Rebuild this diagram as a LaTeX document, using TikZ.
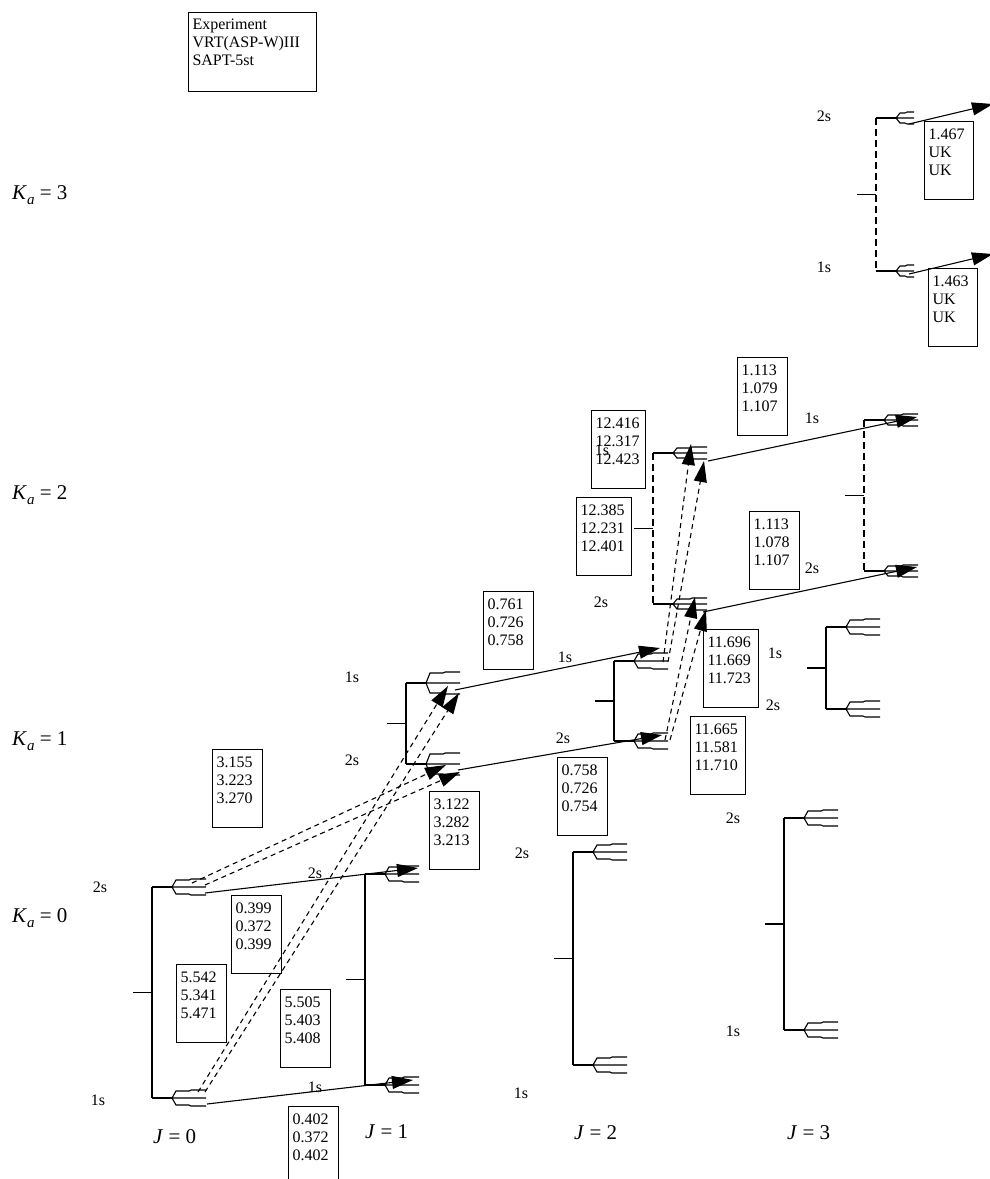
\documentclass[tikz,border=0pt]{standalone}
\usepackage{fontspec}
\setmainfont{Liberation Serif}
\usetikzlibrary{arrows.meta}

\newcommand\vfont{\fontsize{16}{18}\selectfont}
\newcommand\bigfont{\fontsize{21}{24}\selectfont}
% three stacked values, top aligned in a fixed-height box
\newcommand\vals[4]{\parbox[t][78pt][t]{#1}{\rule{0pt}{18pt}#2\\#3\\#4}}
\newcommand\Klab[1]{\textit{K}\raisebox{-0.28em}{\fontsize{15}{15}\selectfont\textit{a}} = #1}
\newcommand\Jlab[1]{\textit{J} = #1}

% three-pronged fork ending a level: spread, length, x, y
\newcommand\forkat[4]{%
  \draw[lvl,shift={(#3,#4)}]
    (0,0) -- (4,-#1) -- ({0.5*#2},-#1) -- ({0.5*#2+2},{-#1-1}) -- (#2,{-#1-1})
    (0,0) -- (#2,0)
    (0,0) -- (4,#1) -- ({0.5*#2},#1) -- ({0.5*#2+2},{#1+1}) -- (#2,{#1+1});}

% a pair of levels joined by a bracket: vertical x, top y, bottom y, vertical style, fork spread, fork length
\newcommand\lvlblock[6]{%
  \draw[lvl] ({#1-19},{(#2+#3)/2}) -- (#1,{(#2+#3)/2});
  \draw[lvl,#4] (#1,#2) -- (#1,#3);
  \draw[lvl] (#1,#2) -- ({#1+20},#2) (#1,#3) -- ({#1+20},#3);
  \forkat{#5}{#6}{#1+20}{#2}
  \forkat{#5}{#6}{#1+20}{#3}}

\begin{document}
\begin{tikzpicture}[x=1pt,y=-1pt,
  lvl/.style={line width=1.1pt},
  dashlvl/.style={dash pattern=on 7pt off 4pt},
  trans/.style={line width=1.1pt,-{Triangle[length=21pt,width=13pt]}},
  dtrans/.style={trans,dash pattern=on 5pt off 4pt},
  valbox/.style={draw,line width=1pt,anchor=north west,inner xsep=4pt,inner ysep=0pt,font=\vfont},
  lab/.style={font=\vfont,inner sep=0pt},
  biglab/.style={font=\bigfont,inner sep=0pt,anchor=base west}]
\useasboundingbox (0,0) rectangle (989,1179);

% legend
\node[valbox] (legend) at (188,12) {\parbox[t][79pt][t]{120pt}{\rule{0pt}{17pt}Experiment\\VRT(ASP-W)III\\SAPT-5st}};

% K_a and J labels
\node[biglab] (ka3) at (12,199) {\Klab{3}};
\node[biglab] (ka2) at (12,499) {\Klab{2}};
\node[biglab] (ka1) at (12,745) {\Klab{1}};
\node[biglab] (ka0) at (12,922) {\Klab{0}};
\node[biglab] (j0) at (153,1143) {\Jlab{0}};
\node[biglab] (j1) at (365,1138) {\Jlab{1}};
\node[biglab] (j2) at (574,1139) {\Jlab{2}};
\node[biglab] (j3) at (787,1139) {\Jlab{3}};

% level brackets
\lvlblock{152}{887}{1098}{}{7}{34}
\lvlblock{365}{874}{1085}{}{7}{34}
\lvlblock{573}{852}{1065}{}{7}{34}
\lvlblock{784}{818}{1030}{}{7}{34}
\lvlblock{406}{683}{764}{}{10}{34}
\lvlblock{614}{661}{741}{}{7}{34}
\lvlblock{826}{627}{709}{}{7}{34}
\lvlblock{653}{453}{604}{dashlvl}{5}{34}
\lvlblock{864}{420}{571}{dashlvl}{5}{34}
\lvlblock{876}{118}{271}{dashlvl}{5}{18}

% level symmetry labels
\node[lab] (l1) at (100,887) {2s};
\node[lab] (l2) at (98,1100) {1s};
\node[lab] (l3) at (315,873) {2s};
\node[lab] (l4) at (315,1087) {1s};
\node[lab] (l5) at (352,677) {1s};
\node[lab] (l6) at (352,760) {2s};
\node[lab] (l7) at (522,853) {2s};
\node[lab] (l8) at (521,1093) {1s};
\node[lab] (l9) at (565,657) {1s};
\node[lab] (l10) at (563,738) {2s};
\node[lab] (l11) at (602,450) {1s};
\node[lab] (l12) at (601,602) {2s};
\node[lab] (l13) at (775,653) {1s};
\node[lab] (l14) at (773,705) {2s};
\node[lab] (l15) at (733,818) {2s};
\node[lab] (l16) at (733,1031) {1s};
\node[lab] (l17) at (812,418) {1s};
\node[lab] (l18) at (812,568) {2s};
\node[lab] (l19) at (824,116) {2s};
\node[lab] (l20) at (824,267) {1s};

% value boxes
\node[valbox] (v0399) at (231,895) {\vals{42pt}{0.399}{0.372}{0.399}};
\node[valbox] (v5542) at (176,964) {\vals{42pt}{5.542}{5.341}{5.471}};
\node[valbox] (v5505) at (280,989) {\vals{42pt}{5.505}{5.403}{5.408}};
\node[valbox] (v0402) at (288,1106) {\vals{42pt}{0.402}{0.372}{0.402}};
\node[valbox] (v3155) at (212,749) {\vals{42pt}{3.155}{3.223}{3.270}};
\node[valbox] (v3122) at (429,791) {\vals{42pt}{3.122}{3.282}{3.213}};
\node[valbox] (v0761) at (483,591) {\vals{42pt}{0.761}{0.726}{0.758}};
\node[valbox] (v0758) at (557,757) {\vals{42pt}{0.758}{0.726}{0.754}};
\node[valbox] (v11696) at (703,629) {\vals{47pt}{11.696}{11.669}{11.723}};
\node[valbox] (v11665) at (690,716) {\vals{47pt}{11.665}{11.581}{11.710}};
\node[valbox] (v12416) at (591,410) {\vals{46pt}{12.416}{12.317}{12.423}};
\node[valbox] (v12385) at (576,497) {\vals{47pt}{12.385}{12.231}{12.401}};
\node[valbox] (v1113a) at (737,357) {\vals{42pt}{1.113}{1.079}{1.107}};
\node[valbox] (v1113b) at (749,511) {\vals{42pt}{1.113}{1.078}{1.107}};
\node[valbox] (v1467) at (924,121) {\vals{41pt}{1.467}{UK}{UK}};
\node[valbox] (v1463) at (928,268) {\vals{41pt}{1.463}{UK}{UK}};

% transition end points
\coordinate (a0) at (205,893);  \coordinate (a1) at (418,868);
\coordinate (b0) at (207,1104); \coordinate (b1) at (413,1080);
\coordinate (c0) at (455,690);  \coordinate (c1) at (660,648);
\coordinate (d0) at (458,770);  \coordinate (d1) at (662,735);
\coordinate (e0) at (708,461);  \coordinate (e1) at (917,417);
\coordinate (f0) at (703,612);  \coordinate (f1) at (917,567);
\coordinate (g0) at (909,124);  \coordinate (g1) at (993,104);
\coordinate (h0) at (909,274);  \coordinate (h1) at (993,254);

\coordinate (p0) at (192,883);  \coordinate (p1) at (446,765);
\coordinate (q0) at (205,885);  \coordinate (q1) at (460,772);
\coordinate (r0) at (198,1092); \coordinate (r1) at (448,686);
\coordinate (s0) at (205,1092); \coordinate (s1) at (459,693);
\coordinate (t0) at (663,662);  \coordinate (t1) at (691,444);
\coordinate (u0) at (668,662);  \coordinate (u1) at (704,461);
\coordinate (w0) at (665,740);  \coordinate (w1) at (695,597);
\coordinate (z0) at (670,740);  \coordinate (z1) at (706,610);

% solid transitions
\draw[trans] (a0) -- (a1);
\draw[trans] (b0) -- (b1);
\draw[trans] (c0) -- (c1);
\draw[trans] (d0) -- (d1);
\draw[trans] (e0) -- (e1);
\draw[trans] (f0) -- (f1);
\draw[trans] (g0) -- (g1);
\draw[trans] (h0) -- (h1);

% dashed transitions
\draw[dtrans] (p0) -- (p1);
\draw[dtrans] (q0) -- (q1);
\draw[dtrans] (r0) -- (r1);
\draw[dtrans] (s0) -- (s1);
\draw[dtrans] (t0) -- (t1);
\draw[dtrans] (u0) -- (u1);
\draw[dtrans] (w0) -- (w1);
\draw[dtrans] (z0) -- (z1);
\end{tikzpicture}
\end{document}
